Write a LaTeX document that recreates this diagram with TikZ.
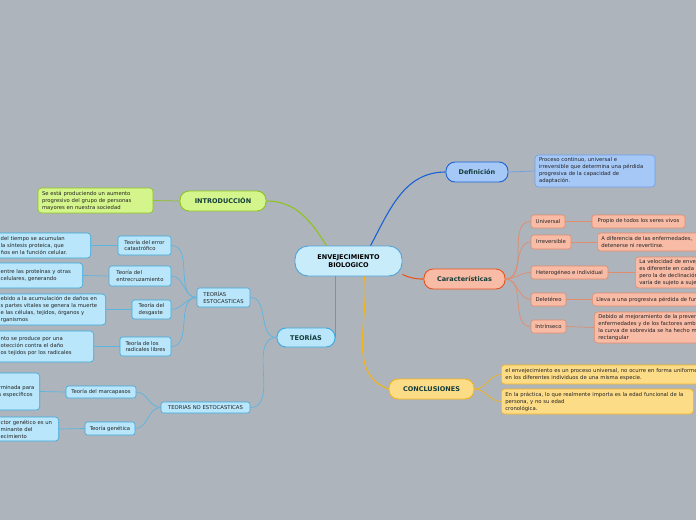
\documentclass[tikz,border=0pt]{standalone}
\usepackage{fontspec}
\setmainfont{DejaVu Sans}

\definecolor{bg}{HTML}{ADB4BB}
\definecolor{bioFill}{HTML}{C9ECFB}
\definecolor{bioLine}{HTML}{4DA3DC}
\definecolor{teoFill}{HTML}{B9E6FA}
\definecolor{teoLine}{HTML}{3AA9E0}
\definecolor{teoEdge}{HTML}{5BB5E4}
\definecolor{introFill}{HTML}{D4F58B}
\definecolor{introLine}{HTML}{8FC31F}
\definecolor{defFill}{HTML}{A6C8F6}
\definecolor{defLine}{HTML}{1A62D4}
\definecolor{defLeafLine}{HTML}{6E9EEC}
\definecolor{carFill}{HTML}{F8BBA6}
\definecolor{carLine}{HTML}{E8521F}
\definecolor{carLeafLine}{HTML}{E28C6E}
\definecolor{conFill}{HTML}{FDDC88}
\definecolor{conLine}{HTML}{F3B41C}
\definecolor{headTxt}{HTML}{123C3A}
\definecolor{bodyTxt}{HTML}{222222}

\begin{document}
\begin{tikzpicture}[x=1pt,y=-1pt,
    topic/.style={draw, line width=0.9pt, rounded corners=9pt, inner sep=0pt,
      font=\fontsize{6.5}{8}\selectfont\bfseries, text=headTxt},
    sub/.style={draw, line width=0.6pt, rounded corners=2.5pt, inner sep=0pt,
      align=left, font=\fontsize{5.3}{6.5}\selectfont, text=bodyTxt},
    leaf/.style={draw, line width=0.6pt, rounded corners=3.5pt, inner xsep=4pt,
      inner ysep=0pt, align=left, font=\fontsize{5.3}{7}\selectfont, text=bodyTxt},
    teo/.style={fill=teoFill, draw=teoLine},
    car/.style={fill=carFill, draw=carLeafLine},
    con/.style={fill=conFill, draw=conLine},
    edge/.style={line width=1.1pt},
    twig/.style={line width=0.7pt}]

    % canvas
    \useasboundingbox (0,0) rectangle (696,520);
    \fill[bg] (0,0) rectangle (696,520);
    \clip (0,0) rectangle (696,520);

    % central topic
    \node[topic, fill=bioFill, draw=bioLine, rounded corners=13pt, text=black,
      minimum width=107pt, minimum height=30pt, align=center] (bio) at (348.5,261)
      {ENVEJECIMIENTO\\BIOLOGICO};

    % introduccion
    \node[topic, fill=introFill, draw=introLine, minimum width=86pt, minimum height=20pt]
      (intro) at (223,201) {INTRODUCCIÓN};
    \node[leaf, fill=introFill, draw=introLine, text width=107pt, minimum height=25pt]
      (introtxt) at (95.5,200.5)
      {Se está produciendo un aumento\\progresivo del grupo de personas\\mayores en nuestra sociedad};

    % definicion
    \node[topic, fill=defFill, draw=defLine, minimum width=62pt, minimum height=20pt]
      (def) at (477,172) {Definición};
    \node[leaf, fill=defFill, draw=defLeafLine, text width=112pt, minimum height=32pt]
      (deftxt) at (595,171)
      {Proceso continuo, universal e\\irreversible que determina una pérdida\\progresiva de la capacidad de\\adaptación.};

    % caracteristicas
    \node[topic, fill=carFill, draw=carLine, minimum width=81pt, minimum height=20pt]
      (car) at (464.5,279) {Características};
    \node[sub, car, minimum width=34pt, minimum height=13pt] (univ) at (548,221.5) {Universal};
    \node[sub, car, minimum width=93pt, minimum height=13pt] (univtxt) at (638.5,221.5)
      {Propio de todos los seres vivos};
    \node[sub, car, minimum width=40pt, minimum height=14pt] (irrev) at (551,242) {Irreversible};
    \node[leaf, car, anchor=west, text width=150pt, minimum height=18pt] (irrevtxt) at (597,242)
      {A diferencia de las enfermedades,\\detenerse ni revertirse.};
    \node[sub, car, minimum width=77pt, minimum height=13pt] (hetero) at (569.5,272.5)
      {Heterogéneo e individual};
    \node[leaf, car, anchor=west, text width=150pt, minimum height=31pt] (heterotxt) at (635,272.5)
      {La velocidad de envejecimiento\\es diferente en cada\\pero la de declinación\\varía de sujeto a sujeto};
    \node[sub, car, minimum width=35pt, minimum height=13pt] (delet) at (548.5,299.5) {Deletéreo};
    \node[leaf, car, anchor=west, text width=150pt, minimum height=13pt] (delettxt) at (592,299.5)
      {Lleva a una progresiva pérdida de función};
    \node[sub, car, minimum width=35pt, minimum height=13pt] (intrin) at (548.5,326.5) {Intrínseco};
    \node[leaf, car, anchor=west, text width=150pt, minimum height=31pt] (intrintxt) at (594,327.5)
      {Debido al mejoramiento de la prevención\\enfermedades y de los factores ambientales\\la curva de sobrevida se ha hecho más\\rectangular};

    % conclusiones
    \node[topic, fill=conFill, draw=conLine, minimum width=85pt, minimum height=20pt]
      (conc) at (431.5,389) {CONCLUSIONES};
    \node[leaf, con, anchor=west, text width=215pt, minimum height=19pt] (conc1) at (501,374.5)
      {el envejecimiento es un proceso universal, no ocurre en forma uniforme\\en los diferentes individuos de una misma especie.};
    \node[leaf, con, anchor=west, text width=184pt, minimum height=25pt] (conc2) at (501,401.5)
      {En la práctica, lo que realmente importa es la edad funcional de la\\persona, y no su edad\\cronológica.};

    % teorias
    \node[topic, fill=teoFill, draw=teoLine, minimum width=58pt, minimum height=19pt]
      (teor) at (306,337.5) {TEORÍAS};
    \node[sub, teo, minimum width=53pt, minimum height=19pt] (esto) at (223.5,297.5)
      {TEORÍAS\\ESTOCASTICAS};
    \node[sub, teo, minimum width=89pt, minimum height=11pt] (noesto) at (205.5,407.5)
      {TEORIAS NO ESTOCASTICAS};

    \node[sub, teo, minimum width=53pt, minimum height=19pt] (error) at (144.5,245.5)
      {Teoría del error\\catastrófico};
    \node[sub, teo, minimum width=62pt, minimum height=20pt] (cruz) at (140,276)
      {Teoría del\\entrecruzamiento};
    \node[sub, teo, minimum width=39pt, minimum height=19pt] (desg) at (151.5,309.5)
      {Teoría del\\desgaste};
    \node[sub, teo, minimum width=51pt, minimum height=19pt] (radic) at (145.5,346.5)
      {Teoría de los\\radicales libres};
    \node[sub, teo, minimum width=70pt, minimum height=12pt] (marca) at (101,392)
      {Teoría del marcapasos};
    \node[sub, teo, minimum width=50pt, minimum height=13pt] (genet) at (110,428.5)
      {Teoría genética};

    \node[leaf, teo, anchor=east, text width=86pt, minimum height=25pt] (errortxt) at (91,245.5)
      {del tiempo se acumulan\\la síntesis proteica, que\\ños en la función celular.};
    \node[leaf, teo, anchor=east, text width=78pt, minimum height=25pt] (cruztxt) at (83,275.5)
      {entre las proteínas y otras\\celulares, generando};
    \node[leaf, teo, anchor=east, text width=101pt, minimum height=31pt] (desgtxt) at (106,309.5)
      {ebido a la acumulación de daños en\\s partes vitales se genera la muerte\\e las células, tejidos, órganos y\\rganismos};
    \node[leaf, teo, anchor=east, text width=89pt, minimum height=31pt] (radictxt) at (94,346.5)
      {nto se produce por una\\otección contra el daño\\os tejidos por los radicales};
    \node[leaf, teo, anchor=east, inner xsep=2pt, text width=39pt, minimum height=37pt] (marcatxt) at (40,391.5)
      {rminada para\\s específicos};
    \node[leaf, teo, anchor=east, text width=54pt, minimum height=24pt] (genettxt) at (59,429)
      {ctor genético es un\\minante del\\ecimiento};

    % main branches
    \draw[edge, introLine] (intro.east) to[out=0, in=122] (bio.145);
    \draw[edge, defLine] (bio.35) to[out=62, in=180] (def.west);
    \draw[edge, carLine!90!orange] (bio.-14) to[out=-25, in=180] (car.west);
    \draw[edge, conLine] (bio.-44) to[out=-84, in=160] (conc.west);
    \draw[edge, teoLine] (teor.east |- bio.south) -- (teor.east);

    % leaves of the main branches
    \draw[twig, introLine] (intro.west) -- (introtxt.east);
    \draw[twig, defLeafLine] (def.east) -- (deftxt.west);
    \foreach \n in {univ, irrev, hetero, delet, intrin} {
      \draw[twig, carLeafLine] (car.east) to[out=0, in=180] (\n.west);
      \draw[twig, carLeafLine] (\n.east) -- (\n txt.west);
    }
    \foreach \n in {conc1, conc2}
      \draw[twig, conLine] (conc.east) to[out=0, in=180] (\n.west);

    % theory tree
    \draw[twig, teoEdge] (teor.west) to[out=180, in=0] (esto.east);
    \draw[twig, teoEdge] (teor.west) to[out=180, in=0] (noesto.east);
    \foreach \n in {error, cruz, desg, radic} {
      \draw[twig, teoEdge] (esto.west) to[out=180, in=0] (\n.east);
      \draw[twig, teoEdge] (\n.west) -- (\n txt.east);
    }
    \foreach \n in {marca, genet} {
      \draw[twig, teoEdge] (noesto.west) to[out=180, in=0] (\n.east);
      \draw[twig, teoEdge] (\n.west) -- (\n txt.east);
    }
\end{tikzpicture}
\end{document}
